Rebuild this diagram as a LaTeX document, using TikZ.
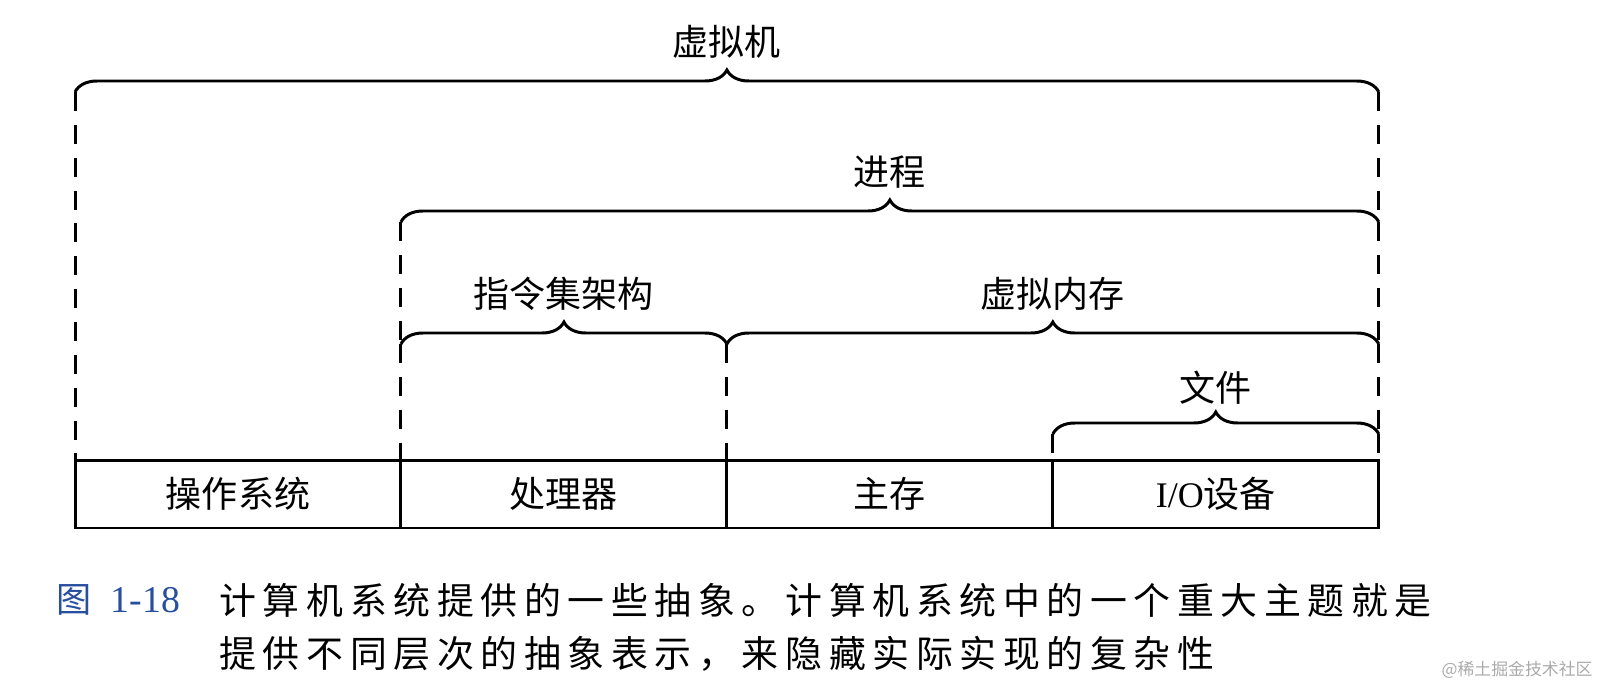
\documentclass[tikz,border=0pt]{standalone}
\usepackage{fontspec}
\setmainfont{Liberation Serif}
\newfontfamily\cjk{Noto Sans CJK SC}
\newfontfamily\capcjk[LetterSpace=18]{Noto Sans CJK SC}
\usepackage{xcolor}
\usetikzlibrary{positioning,decorations.pathreplacing}
\definecolor{figblue}{RGB}{40,78,158}
\definecolor{markgray}{RGB}{170,170,170}
\tikzset{cell/.style={draw,line width=1.7pt,minimum width=6.52cm,minimum height=1.36cm,
		inner sep=0pt,outer sep=0pt,font=\cjk\fontsize{20.5}{24}\selectfont},
}

\begin{document}
\begin{tikzpicture}[x=0.02cm,y=-0.02cm,line width=1.7pt,
		brace/.style={decorate,decoration={brace,amplitude=0.44cm}},
		dashline/.style={dash pattern=on 10.8pt off 7.9pt},
		lbl/.style={font=\cjk\fontsize{20.5}{24}\selectfont,inner sep=0pt,yshift=1cm},
		captxt/.style={font=\capcjk\fontsize{21}{24}\selectfont,inner sep=0pt,anchor=west}]
	\useasboundingbox (0,0) rectangle (1600,686);
	
	% bottom row
	\node[cell] (os) at (238,494) {操作系统};
	\node[cell] (cpu) [right=0pt of os] {处理器};
	\node[cell] (mem) [right=0pt of cpu] {主存};
	\node[cell] (io) [right=0pt of mem] {{\rmfamily I/O}设备};
	
	% brace levels
	\coordinate (lv1) at (0,92);
	\coordinate (lv2) at (0,222);
	\coordinate (lv3) at (0,344);
	\coordinate (lv4) at (0,434);
	
	\draw[brace] (os.north west |- lv1) -- (io.north east |- lv1) node[lbl,midway] (vmach) {虚拟机};
	\draw[brace] (cpu.north west |- lv2) -- (io.north east |- lv2) node[lbl,midway] (proc) {进程};
	\draw[brace] (cpu.north west |- lv3) -- (mem.north west |- lv3) node[lbl,midway] (isa) {指令集架构};
	\draw[brace] (mem.north west |- lv3) -- (io.north east |- lv3) node[lbl,midway] (vmem) {虚拟内存};
	\draw[brace] (io.north west |- lv4) -- (io.north east |- lv4) node[lbl,midway,yshift=-0.08cm] (file) {文件};
	
	% dashed guides
	\draw[dashline] (os.north west |- lv1) -- (os.north west);
	\draw[dashline] (io.north east |- lv1) -- (io.north east |- lv2);
	\draw[dashline] (io.north east |- lv2) -- (io.north east |- lv3);
	\draw[dashline] (io.north east |- lv3) -- (io.north east |- lv4);
	\draw[dashline] (io.north east |- lv4) -- (io.north east);
	\draw[dashline] (cpu.north west |- lv2) -- (cpu.north west |- lv3);
	\draw[dashline] (cpu.north west |- lv3) -- (cpu.north west);
	\draw[dashline] (mem.north west |- lv3) -- (mem.north west);
	\draw[dashline] (io.north west |- lv4) -- (io.north west);
	
	% caption
	\node[anchor=west,inner sep=0pt,text=figblue] (figno) at (55,600)
		{{\cjk\fontsize{20}{23}\selectfont 图}\hspace{11pt}{\fontsize{21.5}{24}\selectfont 1-18}};
	\node[captxt] (cap1) at (218,600) {计算机系统提供的一些抽象。计算机系统中的一个重大主题就是};
	\node[captxt] (cap2) at (218,654) {提供不同层次的抽象表示，来隐藏实际实现的复杂性};
	
	\node[anchor=east,inner sep=0pt,text=markgray,font=\cjk\fontsize{9.6}{11}\selectfont] (wm) at (1594,670) {@稀土掘金技术社区};
\end{tikzpicture}
\end{document}
